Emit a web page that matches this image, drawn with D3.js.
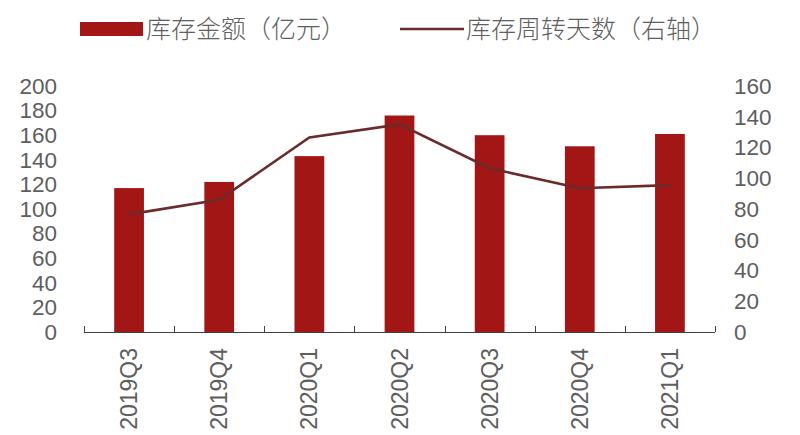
<!DOCTYPE html>
<html lang="zh">
<head>
  <meta charset="UTF-8">
  <title>库存金额与库存周转天数</title>
  <style>
    body { margin: 0; background: #fff; }
    svg text { font-family: "Liberation Sans", Arial, "Noto Sans CJK SC", sans-serif; fill: #5e5e5e; }
    .legend text { font-family: "Noto Sans CJK SC", sans-serif; font-weight: 300; fill: #606060; }
  </style>
</head>
<body>
  <svg id="chart" width="800" height="435"></svg>
<script src="https://cdn.jsdelivr.net/npm/d3@7"></script>
<script>
  // data
  let quarters = ["2019Q3", "2019Q4", "2020Q1", "2020Q2", "2020Q3", "2020Q4", "2021Q1"]
  let inventory = [117, 122, 143, 176, 160, 151, 161]        // 库存金额（亿元）
  let turnoverDays = [76.5, 86, 126.5, 135, 106.5, 93.5, 95.5] // 库存周转天数（右轴）
  let leftTicks = [0, 20, 40, 60, 80, 100, 120, 140, 160, 180, 200]
  let rightTicks = [0, 20, 40, 60, 80, 100, 120, 140, 160]

  let barColor = "#a31616"
  let lineColor = "#6b2b2b"

  let svg = d3.select("#chart")

  let x = d3.scaleBand().domain(quarters).range([84, 715]).paddingInner(0.67).paddingOuter(0.335)
  let yLeft = d3.scaleLinear().domain([0, 200]).range([332, 86])
  let yRight = d3.scaleLinear().domain([0, 160]).range([332, 86])

  // bars
  svg.append("g")
     .selectAll("rect")
     .data(inventory)
     .enter()
     .append("rect")
     .attr("x", (d, i) => x(quarters[i]))
     .attr("y", d => yLeft(d))
     .attr("width", x.bandwidth())
     .attr("height", d => yLeft(0) - yLeft(d))
     .attr("fill", barColor)

  // line on right axis
  let line = d3.line()
               .x((d, i) => x(quarters[i]) + x.bandwidth() / 2)
               .y(d => yRight(d))
  svg.append("path")
     .datum(turnoverDays)
     .attr("d", line)
     .attr("fill", "none")
     .attr("stroke", lineColor)
     .attr("stroke-width", 2.6)

  // x axis: line + inward ticks at band edges
  let xAxis = svg.append("g")
  xAxis.append("line")
       .attr("x1", 84).attr("x2", 715)
       .attr("y1", 332.5).attr("y2", 332.5)
       .attr("stroke", "#404040").attr("stroke-width", 1)
  let edges = quarters.map(q => x(q) - x.step() * x.paddingInner() / 2).concat([715])
  edges[0] = 84
  xAxis.selectAll("line.tick")
       .data(edges)
       .enter()
       .append("line")
       .attr("class", "tick")
       .attr("x1", d => Math.round(d) + 0.5).attr("x2", d => Math.round(d) + 0.5)
       .attr("y1", 332).attr("y2", 326)
       .attr("stroke", "#404040")
  xAxis.selectAll("text")
       .data(quarters)
       .enter()
       .append("text")
       .attr("transform", d => `translate(${x(d) + x.bandwidth() / 2},348) rotate(-90)`)
       .attr("dy", "0.35em")
       .attr("text-anchor", "end")
       .attr("font-size", 23)
       .text(d => d)

  // left axis labels
  svg.append("g")
     .selectAll("text")
     .data(leftTicks)
     .enter()
     .append("text")
     .attr("x", 57)
     .attr("y", d => yLeft(d))
     .attr("dy", "0.35em")
     .attr("text-anchor", "end")
     .attr("font-size", 22.5)
     .text(d => d)

  // right axis labels
  svg.append("g")
     .selectAll("text")
     .data(rightTicks)
     .enter()
     .append("text")
     .attr("x", 734)
     .attr("y", d => yRight(d))
     .attr("dy", "0.35em")
     .attr("text-anchor", "start")
     .attr("font-size", 22.5)
     .text(d => d)

  // legend
  let legend = svg.append("g").attr("class", "legend")
  legend.append("rect")
        .attr("x", 80).attr("y", 22).attr("width", 63).attr("height", 14)
        .attr("fill", barColor)
  legend.append("text")
        .attr("x", 146).attr("y", 29).attr("dy", "0.36em")
        .attr("font-size", 25)
        .text("库存金额（亿元）")
  legend.append("line")
        .attr("x1", 400).attr("x2", 464).attr("y1", 29).attr("y2", 29)
        .attr("stroke", lineColor).attr("stroke-width", 2.6)
  legend.append("text")
        .attr("x", 466).attr("y", 29).attr("dy", "0.36em")
        .attr("font-size", 25)
        .text("库存周转天数（右轴）")
</script>
</body>
</html>
